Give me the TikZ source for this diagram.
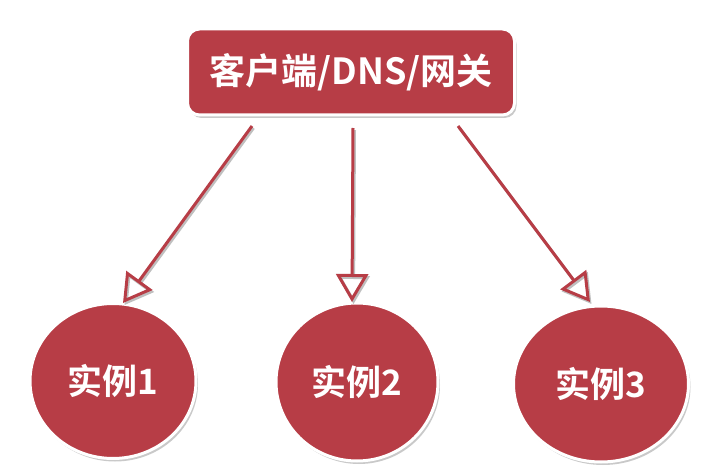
\documentclass[tikz,border=0pt]{standalone}
\usepackage{fontspec}
\newfontfamily\cjk{Noto Sans CJK SC}[BoldFont={* Bold}]
\usetikzlibrary{shadows,arrows.meta,shapes.geometric}
\definecolor{boxred}{HTML}{B73D46}
\begin{document}
\begin{tikzpicture}[x=1pt,y=-1pt,
  redshape/.style={fill=boxred,draw=white,line width=3pt,
    drop shadow={shadow xshift=2pt,shadow yshift=-3pt,opacity=0.35,fill=black!60}},
  lbl/.style={text=white,font=\cjk\bfseries\fontsize{35}{37}\selectfont},
  toplbl/.style={text=white,font=\cjk\bfseries\fontsize{36}{38}\selectfont},
  conn/.style={draw=boxred,line width=3pt,
    -{Triangle[open,length=28pt,width=32pt,line width=3pt]},
    preaction={draw=black!25,line width=3pt,transform canvas={shift={(1.5pt,-2pt)}}}}]
\useasboundingbox (0,0) rectangle (724,476);
\fill[white] (0,0) rectangle (724,476);
\node[redshape,rounded corners=12pt,minimum width=327pt,minimum height=86pt,toplbl] (top) at (351,72) {客户端/DNS/网关};
\node[redshape,ellipse,minimum width=166pt,minimum height=155pt,inner sep=0pt,lbl] (i1) at (113,381) {实例1};
\node[redshape,ellipse,minimum width=162pt,minimum height=158pt,inner sep=0pt,lbl] (i2) at (357,382) {实例2};
\node[redshape,ellipse,minimum width=175pt,minimum height=156pt,inner sep=0pt,lbl] (i3) at (601,384) {实例3};
\coordinate (s1) at (252,126);
\coordinate (s2) at (353,128);
\coordinate (s3) at (458,126);
\coordinate (t1) at (123,303);
\coordinate (t2) at (352,302);
\coordinate (t3) at (590,302);
\draw[conn] (s1) -- (t1);
\draw[conn] (s2) -- (t2);
\draw[conn] (s3) -- (t3);
\end{tikzpicture}
\end{document}
